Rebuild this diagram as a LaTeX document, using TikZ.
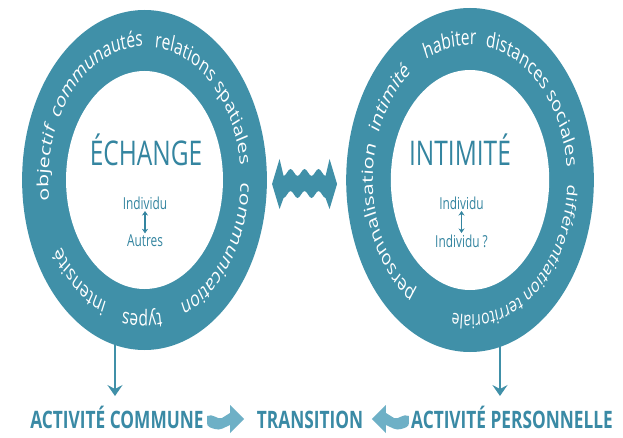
\documentclass[tikz,border=0pt]{standalone}
\usepackage{fontspec}
\setmainfont{Open Sans}
\usetikzlibrary{decorations.text,arrows.meta}
\definecolor{ringc}{RGB}{64,144,168}
\definecolor{headc}{RGB}{52,133,160}
\definecolor{botc}{RGB}{58,138,165}
\definecolor{lightc}{RGB}{110,176,198}
\newcommand\ringtxt{\fontsize{21.5}{21.5}\selectfont\color{white}}
\newcommand\ringtxtsm{\fontsize{19.5}{19.5}\selectfont\color{white}}
\tikzset{
 ringout/.style={circle, fill=ringc, inner sep=0pt, outer sep=0pt},
 ringin/.style={circle, fill=white, inner sep=0pt, outer sep=0pt},
 ringlabel/.style={decorate, decoration={text along path, text={|\ringtxt|#1}}},
 ringlabelsm/.style={decorate, decoration={text along path, text={|\ringtxtsm|#1}}},
 headtxt/.style={text=headc, font=\fontsize{34}{34}\selectfont, anchor=base, inner sep=0pt},
 smalltxt/.style={text=headc, font=\fontsize{16.5}{16.5}\selectfont, inner sep=1pt},
 bottxt/.style={text=botc, font=\bfseries\fontsize{24}{24}\selectfont, anchor=base, inner sep=0pt},
 dbl/.style={headc, line width=2pt, {Stealth[length=4.5pt,width=8.5pt]}-{Stealth[length=4.5pt,width=8.5pt]}, shorten <=0.5pt, shorten >=0.5pt},
 downarr/.style={ringc, line width=3.5pt, -{Stealth[length=11pt,width=21pt,inset=4pt]}},
}
% #1 ring node, #2 start angle, #3 radius, #4 style, #5 text
\newcommand\ringword[5]{\path[#4={#5}] (#1.center) ++(#2:#3) arc[start angle=#2, end angle={#2-150}, radius=#3];}

\begin{document}
\begin{tikzpicture}[x=1pt,y=1pt]
\fill[white] (0,0) rectangle (623,437);
\useasboundingbox (0,0) rectangle (623,437);
\begin{scope}[transform canvas={xscale=0.72}]
% rings
\node[ringout, minimum size=340pt] (lout) at (200.7,257) {};
\node[ringin, minimum size=218pt] (lin) at (200.7,257) {};
\node[ringout, minimum size=344pt] (rout) at (652.8,257) {};
\node[ringin, minimum size=220pt] (rin) at (652.8,257) {};

% ring labels, left
\ringword{lout}{189}{133.5}{ringlabel}{objectif}
\ringword{lout}{153}{133.5}{ringlabel}{communautés}
\ringword{lout}{84}{133.5}{ringlabel}{relations spatiales}
\ringword{lout}{-1}{133.5}{ringlabel}{communication}
\ringword{lout}{-80}{134.5}{ringlabel}{types}
\ringword{lout}{-113}{133.5}{ringlabel}{intensité}
% ring labels, right
\ringword{rout}{236}{135}{ringlabel}{personnalisation}
\ringword{rout}{160}{135}{ringlabel}{intimité}
\ringword{rout}{117}{135}{ringlabel}{habiter}
\ringword{rout}{81}{135}{ringlabel}{distances sociales}
\ringword{rout}{-2}{135}{ringlabelsm}{différentiation territoriale}

% centres
\node[headtxt] (ech) at (202.8,271) {ÉCHANGE};
\node[smalltxt] (ind1) at (201.4,234) {Individu};
\node[smalltxt] (aut) at (201.4,196) {Autres};
\draw[dbl] (ind1) -- (aut);

\node[headtxt] (int) at (638.9,271) {INTIMITÉ};
\node[smalltxt] (ind2) at (641,234) {Individu};
\node[smalltxt] (ind3) at (641,196) {Individu ?};
\draw[dbl] (ind2) -- (ind3);

% wavy double arrow
\fill[ringc, shift={(423,253)}, xscale=1.3889] (-32.5,0) -- (-25,25) -- (-21,8)
  cos (-17.5,11.5) sin (-14,15) cos (-10.5,11.5) sin (-7,8) cos (-3.5,11.5) sin (0,15)
  cos (3.5,11.5) sin (7,8) cos (10.5,11.5) sin (14,15) cos (17.5,11.5) sin (21,8)
  -- (25,25) -- (32.5,0) -- (25,-25) -- (21,-14)
  cos (17.5,-10.5) sin (14,-7) cos (10.5,-10.5) sin (7,-14) cos (3.5,-10.5) sin (0,-7)
  cos (-3.5,-10.5) sin (-7,-14) cos (-10.5,-10.5) sin (-14,-7) cos (-17.5,-10.5) sin (-21,-14)
  -- (-25,-25) -- cycle;

% bottom row
\node[bottxt] (actc) at (162.5,9) {ACTIVITÉ COMMUNE};
\node[bottxt] (trans) at (430.6,9) {TRANSITION};
\node[bottxt] (actp) at (711.1,9) {ACTIVITÉ PERSONNELLE};

\fill[lightc, shift={(312.5,18)}, xscale=1.3889] (-18,3) .. controls (-12,6) and (-8,-1) .. (-3,1)
  .. controls (0,2) and (2,5) .. (5,6) -- (5,14) -- (19,0) -- (5,-14) -- (5,-6)
  .. controls (0,-8) and (-5,-12) .. (-10,-10) .. controls (-14,-9) and (-18,-8) .. (-18,-4) -- cycle;
\fill[lightc, shift={(543,18)}, xscale=-1.3889] (-18,3) .. controls (-12,6) and (-8,-1) .. (-3,1)
  .. controls (0,2) and (2,5) .. (5,6) -- (5,14) -- (19,0) -- (5,-14) -- (5,-6)
  .. controls (0,-8) and (-5,-12) .. (-10,-10) .. controls (-14,-9) and (-18,-8) .. (-18,-4) -- cycle;

% down arrows
\coordinate (lbot) at (159.7,94);
\coordinate (ltip) at (159.7,41);
\coordinate (rbot) at (694.4,92);
\coordinate (rtip) at (694.4,41);
\draw[downarr] (lbot) -- (ltip);
\draw[downarr] (rbot) -- (rtip);
\end{scope}
\end{tikzpicture}
\end{document}
